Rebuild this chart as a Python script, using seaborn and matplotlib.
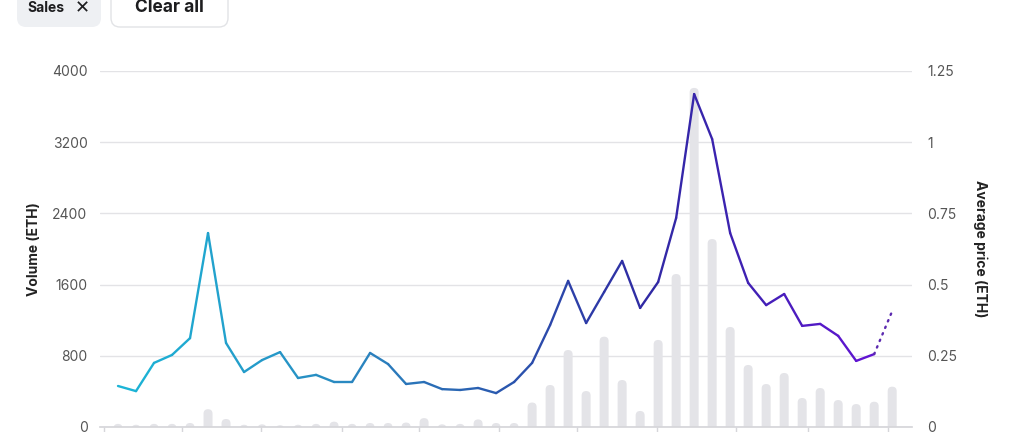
import numpy as np
import pandas as pd
import matplotlib
matplotlib.use("Agg")
import matplotlib.pyplot as plt
import seaborn as sns
from matplotlib.patches import FancyBboxPatch
from matplotlib.colors import LinearSegmentedColormap

# ---------------- data ----------------
weeks = [f"W{i+1}" for i in range(44)]
volume_eth = [35, 25, 35, 35, 45, 200, 90, 25, 30, 20, 25, 35, 60, 35, 45, 45,
              50, 100, 30, 35, 85, 45, 45, 275, 472, 865, 404, 1015, 528, 180,
              978, 1719, 3810, 2112, 1124, 697, 483, 607, 326, 438, 303, 258,
              284, 453]
avg_price_eth = [0.144, 0.126, 0.225, 0.253, 0.312, 0.681, 0.295, 0.193, 0.235,
                 0.263, 0.172, 0.183, 0.158, 0.158, 0.260, 0.221, 0.151, 0.158,
                 0.133, 0.130, 0.137, 0.119, 0.158, 0.225, 0.358, 0.513, 0.365,
                 0.474, 0.583, 0.418, 0.509, 0.734, 1.169, 1.011, 0.681, 0.506,
                 0.428, 0.467, 0.355, 0.362, 0.320, 0.232, 0.256, 0.407]
volume_ticks = [0, 800, 1600, 2400, 3200, 4000]
price_ticks = [0, 0.25, 0.5, 0.75, 1, 1.25]
price_tick_labels = ["0", "0.25", "0.5", "0.75", "1", "1.25"]
month_tick_pos = [-0.78, 3.56, 7.94, 12.44, 16.72, 21.17, 25.5, 29.94, 34.33, 38.33, 42.78]

df = pd.DataFrame({"week": weeks, "volume": volume_eth, "price": avg_price_eth})

# ---------------- style ----------------
sns.set_theme(style="white")
plt.rcParams["font.family"] = ["Inter", "DejaVu Sans"]

fig = plt.figure(figsize=(10.14, 4.32), dpi=100)
ax = fig.add_axes([100 / 1014, 1 - 427 / 432, 812 / 1014, 356 / 432])

sns.barplot(data=df, x="week", y="volume", color="#e4e4e8", width=0.5,
            saturation=1, ax=ax, zorder=2)

# round the bar tops
px_per_x = 18.0
px_per_y = 356 / 4000
aspect = px_per_x / px_per_y
for p in list(ax.patches):
    x0, y0 = p.get_x(), p.get_y()
    w, h = p.get_width(), p.get_height()
    r = w / 2
    fb = FancyBboxPatch((x0, y0 - r * aspect), w, h + r * aspect,
                        boxstyle=f"round,pad=0,rounding_size={r}",
                        mutation_aspect=aspect,
                        facecolor="#e4e4e8", edgecolor="none", zorder=2)
    p.remove()
    ax.add_patch(fb)

ax.set_xlim(-1.0, 44.1)
ax.set_ylim(0, 4000)
ax.set_yticks(volume_ticks)
ax.set_yticklabels([str(v) for v in volume_ticks])
ax.grid(axis="y", color="#e3e3e6", linewidth=1, zorder=0)
ax.set_axisbelow(True)
ax.set_xticks(month_tick_pos)
ax.set_xticklabels([""] * len(month_tick_pos))
ax.tick_params(axis="x", length=6, color="#d6d6da", width=1, bottom=True)
ax.tick_params(axis="y", length=0, pad=9, labelsize=10, labelcolor="#555555")
for s in ["top", "right", "left"]:
    ax.spines[s].set_visible(False)
ax.spines["bottom"].set_color("#d6d6da")
ax.set_xlabel("")
ax.set_ylabel("Volume (ETH)", fontsize=10, fontweight="bold", color="#222222",
              labelpad=8)

# price axis
ax2 = ax.twinx()
ax2.set_ylim(0, 1.25)
ax2.set_yticks(price_ticks)
ax2.set_yticklabels(price_tick_labels)
ax2.tick_params(axis="y", length=0, pad=11, labelsize=10, labelcolor="#555555")
for s in ["top", "right", "left", "bottom"]:
    ax2.spines[s].set_visible(False)
ax2.grid(False)
ax2.set_ylabel("Average price (ETH)", fontsize=10, fontweight="bold",
               color="#222222", rotation=270, labelpad=22)

cmap = LinearSegmentedColormap.from_list(
    "grad", [(0.0, "#1cb4d6"), (0.3, "#2a88c0"), (0.5, "#2a5aaf"),
             (0.7, "#2f2aa3"), (0.85, "#4020b4"), (1.0, "#6014d2")])
xs = np.arange(len(avg_price_eth))
n_solid = len(avg_price_eth) - 1
for i in range(n_solid - 1):
    ax2.plot(xs[i:i + 2], avg_price_eth[i:i + 2], color=cmap(i / (n_solid - 2)),
             linewidth=1.7, solid_capstyle="round", solid_joinstyle="round", zorder=3)
ax2.plot(xs[n_solid - 1:], avg_price_eth[n_solid - 1:], color="#5c2ab0",
         linewidth=1.7, linestyle=(0, (0.6, 2.4)), dash_capstyle="round", zorder=3)
ax2.set_xlim(-1.0, 44.1)

# header chips
fa = 1014 / 432
chip = FancyBboxPatch((17 / 1014, 1 - 27 / 432), 84 / 1014, 45 / 432,
                      boxstyle="round,pad=0,rounding_size=0.009",
                      transform=fig.transFigure, facecolor="#eef0f3",
                      edgecolor="none", mutation_aspect=fa)
fig.patches.append(chip)
fig.text(27 / 1014, 1 - 8 / 432, "Sales", fontsize=10, fontweight="bold",
         color="#1d1d1f", va="center", ha="left")
fig.text(82 / 1014, 1 - 8 / 432, "\u2715", fontsize=13, color="#1d1d1f",
         va="center", ha="center", family=["DejaVu Sans"], fontweight="bold")
btn = FancyBboxPatch((111 / 1014, 1 - 27 / 432), 117 / 1014, 45 / 432,
                     boxstyle="round,pad=0,rounding_size=0.009",
                     transform=fig.transFigure, facecolor="white",
                     edgecolor="#e2e3e6", linewidth=1,
                     mutation_aspect=fa)
fig.patches.append(btn)
fig.text(169 / 1014, 1 - 8 / 432, "Clear all", fontsize=12.5, fontweight="bold",
         color="#1d1d1f", va="center", ha="center")

fig.savefig("out.png", dpi=100)
